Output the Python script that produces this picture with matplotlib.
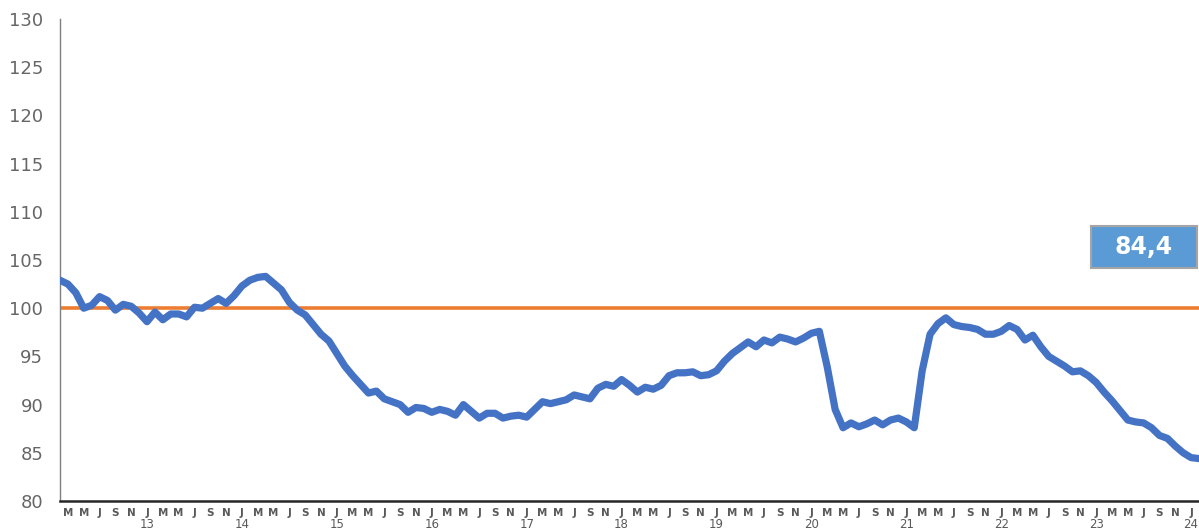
import numpy as np
import matplotlib
matplotlib.use("Agg")
import matplotlib.pyplot as plt
from matplotlib.patches import Rectangle
import matplotlib.transforms as mtransforms

# monthly index, Feb 2012 .. Feb 2024
values = [
    102.9, 102.5, 101.6, 100.0, 100.3, 101.2, 100.8, 99.8, 100.4, 100.2,
    99.5, 98.6, 99.6, 98.8, 99.4, 99.4, 99.1, 100.1, 100.0, 100.5,
    101.0, 100.5, 101.3, 102.3, 102.9, 103.2, 103.3, 102.6, 101.9, 100.6,
    99.8, 99.3, 98.3, 97.3, 96.6, 95.3, 94.0, 93.0, 92.1, 91.2,
    91.4, 90.6, 90.3, 90.0, 89.2, 89.7, 89.6, 89.2, 89.5, 89.3,
    88.9, 90.0, 89.3, 88.6, 89.1, 89.1, 88.6, 88.8, 88.9, 88.7,
    89.5, 90.3, 90.1, 90.3, 90.5, 91.0, 90.8, 90.6, 91.7, 92.1,
    91.9, 92.6, 92.0, 91.3, 91.8, 91.6, 92.0, 93.0, 93.3, 93.3,
    93.4, 93.0, 93.1, 93.5, 94.5, 95.3, 95.9, 96.5, 96.0, 96.7,
    96.4, 97.0, 96.8, 96.5, 96.9, 97.4, 97.6, 93.9, 89.5, 87.6,
    88.1, 87.7, 88.0, 88.4, 87.9, 88.4, 88.6, 88.2, 87.6, 93.5,
    97.3, 98.4, 99.0, 98.3, 98.1, 98.0, 97.8, 97.3, 97.3, 97.6,
    98.2, 97.8, 96.7, 97.2, 96.0, 95.0, 94.5, 94.0, 93.4, 93.5,
    93.0, 92.3, 91.3, 90.4, 89.4, 88.4, 88.2, 88.1, 87.6, 86.8,
    86.5, 85.7, 85.0, 84.5, 84.4,
]
month_letters = ["J", "F", "M", "A", "M", "J", "J", "A", "S", "O", "N", "D"]
start_month = 1  # February (0-based)
start_year = 12
reference = 100
last_label = "84,4"

n = len(values)
x = np.arange(n)

fig = plt.figure(figsize=(11.99, 5.29), dpi=100)
ax = fig.add_axes([60 / 1199, 28 / 529, 1139 / 1199, 482 / 529])

ax.plot(x, values, color="#4472C4", lw=5.2, solid_joinstyle="round",
        solid_capstyle="round", zorder=3)
ax.axhline(reference, color="#ED7D31", lw=2.6, zorder=2)

ax.set_xlim(0, n - 1)
ax.set_ylim(80, 130)
ax.set_yticks(np.arange(80, 131, 5))
ax.tick_params(axis="y", length=0, labelsize=13, labelcolor="#666666", pad=12)

# x labels every second month (odd months), year under January
ticks = [i for i in x if (start_month + i) % 2 == 0]
ax.set_xticks(ticks)
ax.set_xticklabels([month_letters[(start_month + i) % 12] for i in ticks],
                   fontsize=7.5, fontweight="bold", color="#595959")
ax.tick_params(axis="x", length=0, pad=5)
trans = mtransforms.blended_transform_factory(ax.transData, ax.transAxes)
for i in ticks:
    if (start_month + i) % 12 == 0:
        yr = start_year + (start_month + i) // 12
        ax.text(i, -0.048, str(yr), transform=trans, ha="center", va="center",
                fontsize=8.5, color="#595959", clip_on=False)

for s in ["top", "right"]:
    ax.spines[s].set_visible(False)
ax.spines["left"].set_color("#7F7F7F")
ax.spines["left"].set_linewidth(1.0)
ax.spines["bottom"].set_color("#262626")
ax.spines["bottom"].set_linewidth(1.8)

# value box
box = Rectangle((1091 / 1199, 261 / 529), 106 / 1199, 42 / 529,
                transform=fig.transFigure, facecolor="#5B9BD5",
                edgecolor="#A5A5A5", lw=1.5)
fig.add_artist(box)
fig.text(1144 / 1199, 282 / 529, last_label, ha="center", va="center",
         color="white", fontsize=17, fontweight="bold")

fig.savefig("out.png", dpi=100)
